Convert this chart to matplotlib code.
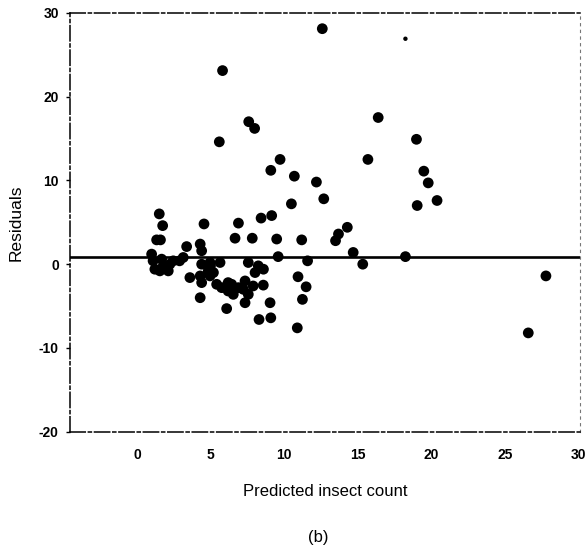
import numpy as np
import matplotlib.pyplot as plt

# predicted insect count vs. model residuals
predicted = [12.6, 5.82, 5.6, 7.6, 8.0, 9.1, 9.73, 10.7, 10.5, 12.2,
             12.7, 16.4, 15.7, 19.0, 19.5, 19.8, 20.4, 19.05, 14.3, 13.7,
             13.5, 11.2, 14.7, 15.35, 18.25, 11.6, 10.95, 11.5, 11.25, 10.9,
             26.6, 27.8, 1.52, 1.75, 1.34, 1.6, 1.0, 1.1, 1.22, 1.68,
             1.79, 2.24, 2.47, 1.56, 2.13, 2.9, 3.15, 3.38, 4.56, 4.3,
             4.4, 4.4, 4.97, 4.85, 5.65, 4.3, 4.4, 4.97, 5.42, 5.76,
             6.2, 6.2, 6.55, 6.9, 7.35, 7.23, 7.57, 7.35, 8.03, 8.25,
             7.57, 4.3, 6.1, 9.05, 8.3, 9.1, 6.67, 6.9, 8.44, 9.16,
             7.84, 9.5, 9.6, 8.6, 3.6, 8.59, 7.9, 6.44, 5.0, 5.2]
residuals = [28.1, 23.1, 14.6, 17.0, 16.2, 11.2, 12.5, 10.5, 7.2, 9.8,
             7.8, 17.5, 12.5, 14.9, 11.1, 9.7, 7.6, 7.0, 4.4, 3.6,
             2.8, 2.9, 1.4, 0.0, 0.9, 0.4, -1.5, -2.7, -4.2, -7.6,
             -8.2, -1.4, 6.0, 4.6, 2.9, 2.9, 1.2, 0.4, -0.6, 0.6,
             -0.2, 0.0, 0.4, -0.8, -0.8, 0.4, 0.8, 2.1, 4.8, 2.4,
             1.6, 0.0, 0.2, -0.8, 0.2, -1.4, -2.2, -1.4, -2.4, -2.8,
             -2.2, -3.2, -3.6, -2.8, -2.0, -3.0, -3.6, -4.6, -1.0, -0.2,
             0.2, -4.0, -5.3, -4.6, -6.6, -6.4, 3.1, 4.9, 5.5, 5.8,
             3.1, 3.0, 0.9, -0.6, -1.6, -2.5, -2.6, -2.4, -0.2, -1.0]

# one stray small point near the top
stray_x = [18.25]
stray_y = [26.9]

mean_resid = 0.8

xticks = [0, 5, 10, 15, 20, 25, 30]
yticks = [-20, -10, 0, 10, 20, 30]

plt.rcParams['font.family'] = ['Liberation Sans', 'DejaVu Sans']

fig = plt.figure(figsize=(5.88, 5.55), dpi=100)
ax = fig.add_axes([0.119, 0.222, 0.867, 0.755])

ax.scatter(predicted, residuals, s=60, c='black', edgecolors='none', zorder=3)
ax.scatter(stray_x, stray_y, s=10, c='black', edgecolors='none', zorder=3)
ax.axhline(mean_resid, color='black', lw=1.9, zorder=2)

ax.set_xlim(-4.55, 30.1)
ax.set_ylim(-20, 30)
ax.set_xticks(xticks)
ax.set_yticks(yticks)
ax.set_xticklabels([str(t) for t in xticks], fontweight='bold', fontsize=10)
ax.set_yticklabels([str(t) for t in yticks], fontweight='bold', fontsize=10)
ax.tick_params(axis='x', length=0, pad=12)
ax.tick_params(axis='y', length=3, width=1, direction='out', pad=5)

# frame drawn as broken dash-dot lines
for side in ['top', 'bottom', 'left']:
    ax.spines[side].set_linestyle((0, (10, 2, 2, 2)))
    ax.spines[side].set_linewidth(1.1)
ax.spines['right'].set_linestyle((0, (2, 4)))
ax.spines['right'].set_linewidth(0.8)
ax.spines['right'].set_color('#777777')

ax.set_xlabel('Predicted insect count', fontsize=12)
ax.xaxis.set_label_coords(0.5, -0.125)
ax.set_ylabel('Residuals', fontsize=12.5)
ax.yaxis.set_label_coords(-0.09, 0.5)

fig.text(0.541, 0.032, '(b)', fontsize=12, ha='center', va='center')

fig.savefig('out.png', dpi=100)
